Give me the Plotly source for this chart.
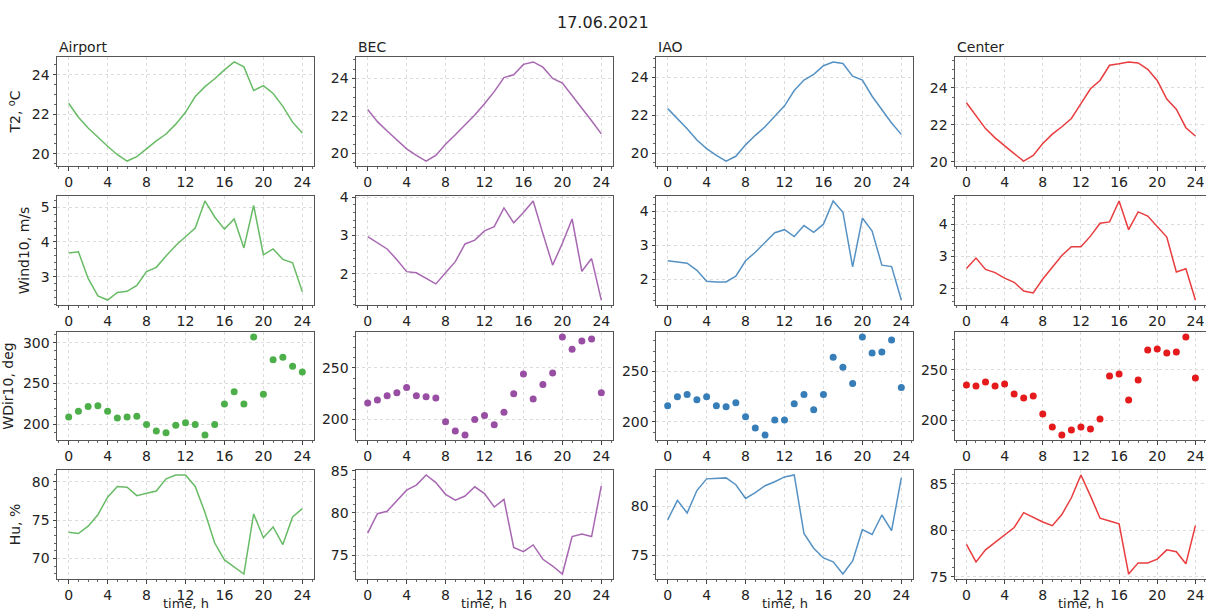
import plotly.graph_objects as go
from plotly.subplots import make_subplots

hours = list(range(25))
stations = ["Airport", "BEC", "IAO", "Center"]

t2_airport = [22.56, 21.85, 21.3, 20.83, 20.38, 19.95, 19.63, 19.85, 20.25, 20.65, 21.0, 21.5, 22.1, 22.9, 23.4, 23.8, 24.25, 24.65, 24.4, 23.2, 23.45, 23.05, 22.4, 21.6, 21.05]
t2_bec = [22.35, 21.7, 21.2, 20.7, 20.25, 19.9, 19.6, 19.9, 20.5, 21.0, 21.5, 22.05, 22.65, 23.3, 24.05, 24.2, 24.75, 24.88, 24.6, 24.0, 23.75, 23.1, 22.45, 21.75, 21.05]
t2_iao = [22.35, 21.85, 21.3, 20.7, 20.25, 19.9, 19.6, 19.85, 20.45, 20.95, 21.4, 21.95, 22.5, 23.3, 23.85, 24.15, 24.6, 24.8, 24.72, 24.05, 23.85, 23.0, 22.3, 21.6, 21.0]
t2_center = [23.2, 22.5, 21.8, 21.3, 20.85, 20.45, 20.05, 20.35, 21.0, 21.5, 21.9, 22.35, 23.15, 23.95, 24.4, 25.22, 25.3, 25.4, 25.35, 25.0, 24.4, 23.4, 22.85, 21.85, 21.4]

wind_airport = [3.68, 3.72, 2.95, 2.45, 2.33, 2.55, 2.58, 2.75, 3.15, 3.27, 3.6, 3.9, 4.15, 4.4, 5.18, 4.72, 4.37, 4.66, 3.83, 5.05, 3.63, 3.8, 3.5, 3.4, 2.57]
wind_bec = [2.97, 2.82, 2.65, 2.37, 2.06, 2.03, 1.88, 1.74, 2.03, 2.32, 2.78, 2.88, 3.12, 3.23, 3.72, 3.33, 3.6, 3.9, 3.05, 2.23, 2.8, 3.43, 2.07, 2.4, 1.32]
wind_iao = [2.55, 2.52, 2.48, 2.27, 1.95, 1.93, 1.93, 2.1, 2.55, 2.8, 3.08, 3.37, 3.46, 3.26, 3.58, 3.38, 3.62, 4.3, 3.97, 2.37, 3.8, 3.42, 2.42, 2.38, 1.4]
wind_center = [2.63, 2.95, 2.6, 2.5, 2.33, 2.2, 1.93, 1.87, 2.3, 2.65, 3.03, 3.3, 3.3, 3.63, 4.03, 4.07, 4.72, 3.83, 4.38, 4.25, 3.93, 3.6, 2.52, 2.62, 1.65]

wdir_airport = [209, 216, 222, 223, 216, 208, 209, 210, 200, 192, 190, 199, 202, 200, 187, 200, 225, 240, 225, 307, 237, 279, 282, 271, 264]
wdir_bec = [216, 219, 223, 226, 231, 223, 222, 221, 198, 189, 185, 200, 204, 195, 207, 225, 244, 220, 234, 245, 280, 268, 276, 278, 226]
wdir_iao = [216, 225, 227, 222, 225, 216, 215, 219, 205, 194, 187, 202, 202, 218, 227, 212, 227, 264, 254, 238, 284, 268, 269, 281, 234]
wdir_center = [235, 234, 238, 234, 236, 226, 222, 224, 206, 193, 185, 190, 193, 191, 201, 244, 246, 220, 240, 270, 271, 267, 268, 283, 242]

hu_airport = [73.4, 73.25, 74.2, 75.7, 78.0, 79.4, 79.3, 78.2, 78.5, 78.8, 80.4, 80.9, 80.9, 79.4, 76.0, 72.0, 69.8, 68.9, 67.95, 75.8, 72.7, 74.1, 71.8, 75.4, 76.5]
hu_bec = [77.6, 79.9, 80.2, 81.5, 82.7, 83.3, 84.5, 83.6, 82.2, 81.5, 82.0, 83.1, 82.3, 80.7, 81.6, 75.9, 75.4, 76.2, 74.5, 73.7, 72.75, 77.2, 77.5, 77.2, 83.2]
hu_iao = [78.6, 80.6, 79.3, 81.6, 82.8, 82.85, 82.9, 82.2, 80.8, 81.4, 82.1, 82.5, 83.0, 83.2, 77.2, 75.7, 74.7, 74.3, 73.05, 74.4, 77.6, 77.1, 79.1, 77.5, 82.9]
hu_center = [78.5, 76.6, 77.9, 78.7, 79.4, 80.3, 81.9, 81.4, 80.9, 80.5, 81.7, 83.5, 85.95, 83.7, 81.3, 81.0, 80.7, 75.3, 76.5, 76.5, 76.9, 77.9, 77.7, 76.4, 80.5]

x_ticks = [0, 4, 8, 12, 16, 20, 24]
x_title = "time, h"
row_titles = ["T2, <sup>o</sup>C", "Wind10, m/s", "WDir10, deg", "Hu, %"]
row_dtick = [2, 1, 50, 5]
row_minor = [0.5, 0.2, 10, 1]

data = [
    [t2_airport, t2_bec, t2_iao, t2_center],
    [wind_airport, wind_bec, wind_iao, wind_center],
    [wdir_airport, wdir_bec, wdir_iao, wdir_center],
    [hu_airport, hu_bec, hu_iao, hu_center],
]
line_colors = ["rgba(77,175,74,0.85)", "rgba(152,78,163,0.85)", "rgba(55,126,184,0.85)", "rgba(228,26,28,0.85)"]
dot_colors = ["#4daf4a", "#984ea3", "#377eb8", "#e41a1c"]

W, H = 1206, 613
col_px = [(57, 314), (356, 613), (656, 913), (955, 1206)]
col_pph = [257 / 26.4, 257 / 26.4, 257 / 26.4, 9.54]
row_px = [(57, 166), (196, 305), (332, 440), (470, 579)]

fig = make_subplots(rows=4, cols=4)
FONT = "DejaVu Sans"
TXT = "#222"
GRID = "#dcdcdc"

for r in range(4):
    for c in range(4):
        vals = data[r][c]
        if r == 2:
            tr = go.Scatter(x=hours, y=vals, mode="markers",
                            marker=dict(color=dot_colors[c], size=7), showlegend=False)
        else:
            tr = go.Scatter(x=hours, y=vals, mode="lines",
                            line=dict(color=line_colors[c], width=1.5), showlegend=False)
        fig.add_trace(tr, row=r + 1, col=c + 1)
        lo, hi = min(vals), max(vals)
        pad = 0.05 * (hi - lo)
        x0, x1 = col_px[c]
        y0, y1 = row_px[r]
        xr_end = -1.2 + (x1 - x0) / col_pph[c]
        fig.update_xaxes(row=r + 1, col=c + 1,
                         domain=[x0 / W, x1 / W], range=[-1.2, xr_end], automargin=False,
                         tickvals=x_ticks, ticks="outside", ticklen=3.5, tickcolor="#444",
                         ticklabeloverflow="allow",
                         showline=True, linecolor="#555", linewidth=1, mirror=True,
                         showgrid=True, gridcolor=GRID, griddash="dot", gridwidth=1,
                         zeroline=False, tickfont=dict(size=14, color=TXT, family=FONT),
                         minor=dict(dtick=1, tick0=0, ticks="outside", ticklen=2, tickcolor="#666", showgrid=False))
        yaxis_kw = dict(domain=[1 - y1 / H, 1 - y0 / H], range=[lo - pad, hi + pad], automargin=False,
                        dtick=row_dtick[r], tick0=0, ticks="outside", ticklen=3.5, tickcolor="#444",
                        showline=True, linecolor="#555", linewidth=1, mirror=True,
                        showgrid=True, gridcolor=GRID, griddash="dot", gridwidth=1,
                        zeroline=False, tickfont=dict(size=14, color=TXT, family=FONT),
                        minor=dict(dtick=row_minor[r], tick0=0, ticks="outside", ticklen=2, tickcolor="#666", showgrid=False))
        if c == 0:
            yaxis_kw["title"] = dict(text=row_titles[r], font=dict(size=14, color=TXT, family=FONT), standoff=7)
        fig.update_yaxes(row=r + 1, col=c + 1, **yaxis_kw)

for c, name in enumerate(stations):
    fig.add_annotation(text=name, x=col_px[c][0] / W, y=1 - 47 / H,
                       xref="paper", yref="paper", xanchor="left", yanchor="middle",
                       showarrow=False, font=dict(size=14, color=TXT, family=FONT))
    xc = (col_px[c][0] + 13.2 * col_pph[c]) / W
    fig.add_annotation(text=x_title, x=xc, y=0, yshift=1,
                       xref="paper", yref="paper", xanchor="center", yanchor="bottom",
                       showarrow=False, borderpad=0,
                       font=dict(size=13, color=TXT, family=FONT))

fig.add_annotation(text="17.06.2021", x=0.5, y=1 - 22 / H, xref="paper", yref="paper",
                   xanchor="center", yanchor="middle", showarrow=False,
                   font=dict(size=16, color=TXT, family=FONT))

fig.update_layout(width=W, height=H, autosize=False,
                  margin=dict(l=0, r=0, t=0, b=0),
                  paper_bgcolor="white", plot_bgcolor="white",
                  font=dict(family=FONT, color=TXT))

fig.write_html("out.html", config={"displayModeBar": False},
               post_script="document.body.style.margin='0';document.body.style.overflow='hidden';")
